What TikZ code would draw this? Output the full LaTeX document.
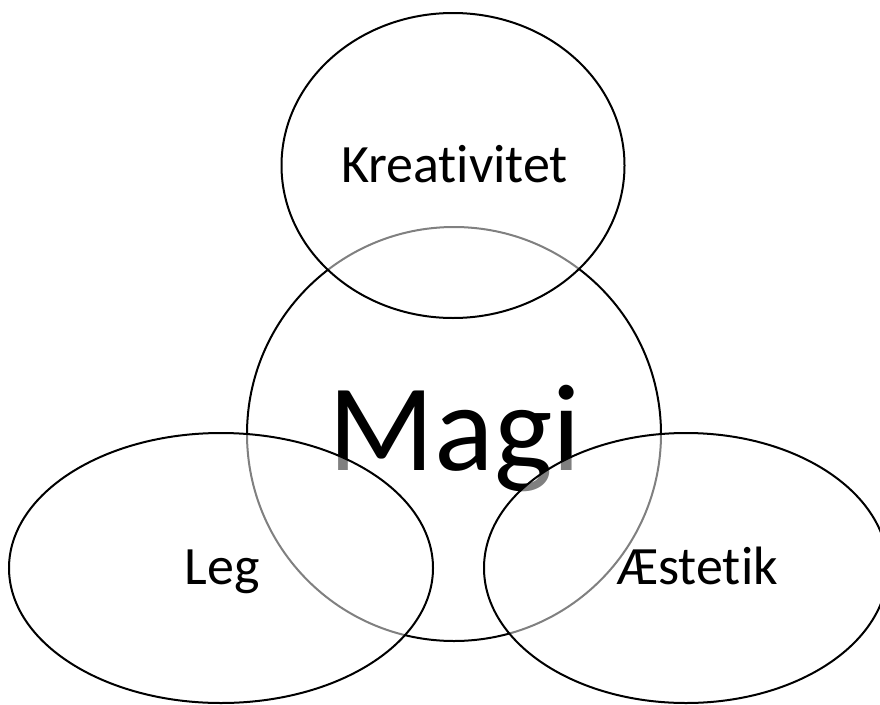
\documentclass[tikz,border=0pt]{standalone}
\usepackage{fontspec}
\setmainfont[Ligatures=NoCommon]{Carlito}

\begin{document}
\begin{tikzpicture}[x=1pt, y=-1pt, line width=2pt,
    ring/.style={draw=black, fill=white, fill opacity=0.5},
    word/.style={anchor=base, inner sep=0pt, font=\fontsize{54}{60}\selectfont}]
    \useasboundingbox (0,0) rectangle (880,704);

    % big circle and its word first, the others lie over it
    \draw (454,434) circle (207);
    \node[word, font=\fontsize{124}{130}\selectfont] (magi) at (455,470) {Magi};

    \draw[ring] (453,165.5) ellipse (171.5 and 152.5);
    \draw[ring] (221,568) ellipse (212 and 135);
    \draw[ring] (686,568) ellipse (202 and 135);

    \node[word] (kreativitet) at (454.5,182) {Kreativitet};
    \node[word] (leg) at (222,584) {Leg};
    \node[word] (aestetik) at (697.5,584) {Æstetik};
\end{tikzpicture}
\end{document}
